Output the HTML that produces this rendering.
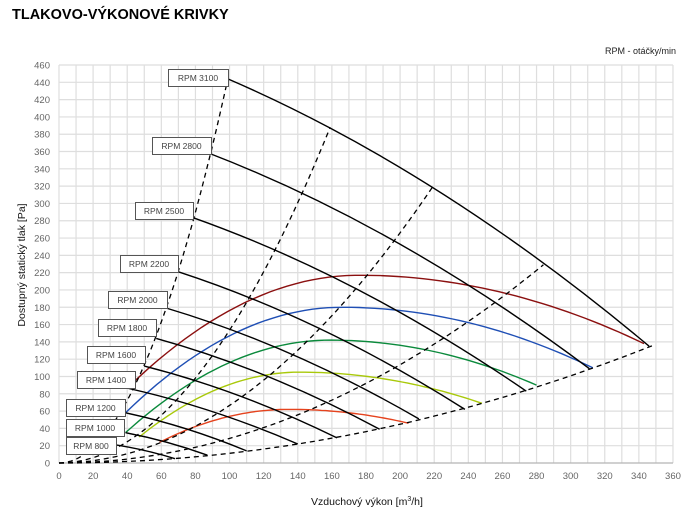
<!DOCTYPE html>
<html><head><meta charset="utf-8"><style>
html,body{margin:0;padding:0;background:#fff;}
svg{display:block;font-family:"Liberation Sans",Arial,sans-serif;}
</style></head><body>
<svg id="s" width="695" height="512" viewBox="0 0 695 512" xmlns="http://www.w3.org/2000/svg">
<text x="12" y="19" font-size="14.5" font-weight="bold" fill="#000">TLAKOVO-VÝKONOVÉ KRIVKY</text>
<text x="605" y="54" font-size="9" fill="#222">RPM - otáčky/min</text>
<text transform="translate(25,265) rotate(-90)" font-size="10.5" text-anchor="middle" fill="#111">Dostupný statický tlak [Pa]</text>
<text x="367" y="505" font-size="10.5" text-anchor="middle" fill="#111">Vzduchový výkon [m<tspan font-size="7" dy="-4">3</tspan><tspan dy="4">/h]</tspan></text>
<g id="g"></g>
</svg>
<script>
var X0=59,SX=1.7055,Y0=463,SY=0.8652;
function px(x){return X0+x*SX}function py(y){return Y0-y*SY}
var g=document.getElementById('g'),h='';
for(var v=0;v<=360;v+=10){var c=px(v);h+='<line x1="'+c+'" y1="'+py(460)+'" x2="'+c+'" y2="'+Y0+'" stroke="#dedede" stroke-width="1.2"/>';}
for(var v=0;v<=460;v+=20){var c=py(v);h+='<line x1="'+X0+'" y1="'+c+'" x2="'+px(360)+'" y2="'+c+'" stroke="#dedede" stroke-width="1.2"/>';}
h+='<line x1="'+X0+'" y1="'+Y0+'" x2="'+px(360)+'" y2="'+Y0+'" stroke="#aaa"/>';
for(var v=0;v<=360;v+=20)h+='<text x="'+px(v)+'" y="479" font-size="9.5" fill="#666" text-anchor="middle">'+v+'</text>';
for(var v=0;v<=460;v+=20)h+='<text x="50" y="'+(py(v)+3.5)+'" font-size="9.5" fill="#666" text-anchor="end">'+v+'</text>';
function arc(x0,y0,xp,yp,x1,y1,col){var a1=(yp-y0)/Math.pow(xp-x0,2),a2=(yp-y1)/Math.pow(x1-xp,2),p=[];
for(var i=0;i<=60;i++){var x=x0+(x1-x0)*i/60,a=x<xp?a1:a2;p.push(px(x).toFixed(1)+','+py(yp-a*(x-xp)*(x-xp)).toFixed(1));}
h+='<polyline points="'+p.join(' ')+'" fill="none" stroke="'+col+'" stroke-width="1.4"/>';}
arc(44,94,176,217,343,138,'#8b1010');
arc(39,58,166,180,313,110,'#1f4fb5');
arc(39,35,159,142,280,90,'#0b8a3c');
arc(47,30,141,105,248,69,'#a9c90a');
arc(59,24,135,62,205,46,'#e5431e');
[[0.0453,99],[0.01535,159],[0.00665,220],[0.00284,284],[0.00112,348]].forEach(function(k){var p=[];
for(var i=0;i<=60;i++){var x=k[1]*i/60;p.push(px(x).toFixed(1)+','+py(k[0]*x*x).toFixed(1));}
h+='<polyline points="'+p.join(' ')+'" fill="none" stroke="#000" stroke-width="1.3" stroke-dasharray="5,4"/>';});
var F=[[99,444,346,135],[88,358,311,109],[78,284,274,83],[70,221,238,62],[63,179,211,51],[57,144,188,39],[50,112,163,29],[39,87,140,22],[39,58,110,14],[39,35,87,9],[33,21,68,5]];
F.forEach(function(f){var mx=(f[0]+f[2])/2,my=(f[1]+f[3])/2+0.16*(f[1]-f[3]);
h+='<path d="M'+px(f[0])+','+py(f[1])+' Q'+px(mx)+','+py(my)+' '+px(f[2])+','+py(f[3])+'" fill="none" stroke="#000" stroke-width="1.4"/>';});
var L=[['3100',168,69,60],['2800',152,137,59],['2500',135,202,58],['2200',120,255,58],['2000',108,291,59],['1800',98,319,58],['1600',87,346,58],['1400',77,371,58],['1200',66,399,59],['1000',66,419,58],['800',66,437,50]];
L.forEach(function(l){h+='<rect x="'+l[1]+'.5" y="'+l[2]+'.5" width="'+l[3]+'" height="17" fill="#fff" stroke="#555"/><text x="'+(l[1]+l[3]/2)+'" y="'+(l[2]+12)+'" font-size="8.5" fill="#444" text-anchor="middle">RPM '+l[0]+'</text>';});
g.innerHTML=h;
</script>
</body></html>
